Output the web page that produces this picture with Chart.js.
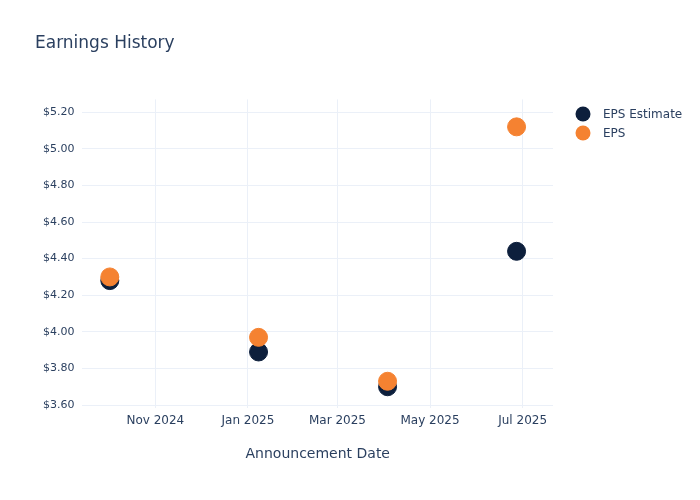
<!DOCTYPE html>
<html><head><meta charset="utf-8">
<script src="https://cdn.jsdelivr.net/npm/chart.js@4.4.0/dist/chart.umd.min.js"></script>
<style>html,body{margin:0;padding:0;background:#fff}#w{width:700px;height:500px}</style>
</head><body><div id="w"><canvas id="c"></canvas></div>
<script>
const dates = ["2024-10-02","2025-01-08","2025-04-03","2025-06-27"];
const epsEstimate = [4.28, 3.89, 3.70, 4.44];
const eps = [4.30, 3.97, 3.73, 5.12];
const tickDates = ["2024-11-01","2025-01-01","2025-03-01","2025-05-01","2025-07-01"];
const tickLabels = ["Nov 2024","Jan 2025","Mar 2025","May 2025","Jul 2025"];
const day = s => Date.parse(s + "T00:00:00Z") / 86400000;
const tickVals = tickDates.map(day);
const fc = "#2a3f5f";
const ff = "'DejaVu Sans', sans-serif";
Chart.defaults.font.family = ff;
Chart.defaults.color = fc;
const legendPlugin = {
  id:'customLegend',
  afterDraw(chart){
    const ctx = chart.ctx;
    ctx.save();
    chart.data.datasets.slice().sort((a,b)=>a.legendIdx-b.legendIdx).forEach((ds,i)=>{
      const y = 114 + i*19;
      ctx.beginPath(); ctx.arc(583,y,7.5,0,Math.PI*2);
      ctx.fillStyle = ds.backgroundColor; ctx.fill();
      ctx.fillStyle = fc; ctx.font = "12px " + ff; ctx.textBaseline='middle'; ctx.textAlign='left';
      ctx.fillText(ds.label, 603, y+1);
    });
    ctx.restore();
  }
};
new Chart(document.getElementById('c'), {
  type: 'scatter',
  data: { datasets: [
    { label: 'EPS Estimate', legendIdx:0, order:2, data: dates.map((d,i)=>({x:day(d),y:epsEstimate[i]})),
      backgroundColor:'#0d1f3c', borderColor:'#0d1f3c', pointRadius:9, pointHoverRadius:9 },
    { label: 'EPS', legendIdx:1, order:1, data: dates.map((d,i)=>({x:day(d),y:eps[i]})),
      backgroundColor:'#f58231', borderColor:'#f58231', pointRadius:9, pointHoverRadius:9 }
  ]},
  plugins:[legendPlugin],
  options: {
    responsive:true, maintainAspectRatio:false, animation:false,
    layout:{padding:{left:35,right:147,top:0,bottom:33}},
    plugins:{
      title:{display:true,text:'Earnings History',align:'start',font:{size:17,weight:'normal'},color:fc,padding:{top:33,bottom:46}},
      legend:{display:false},
      tooltip:{enabled:false}
    },
    scales:{
      x:{type:'linear',min:day("2024-09-14"),max:day("2025-07-21"),
        afterBuildTicks:s=>{s.ticks=tickVals.map(v=>({value:v}));},
        ticks:{callback:(v)=>{const i=tickVals.indexOf(v);return i>=0?tickLabels[i]:'';},font:{size:12},color:fc,maxRotation:0,autoSkip:false,padding:6},
        grid:{color:'#ebf0f8',drawTicks:false},border:{display:false},
        title:{display:true,text:'Announcement Date',font:{size:14},color:fc,padding:{top:12}}},
      y:{min:3.585,max:5.27,
        afterBuildTicks:s=>{const t=[];for(let v=3.6;v<=5.201;v+=0.2)t.push({value:Math.round(v*100)/100});s.ticks=t;},
        ticks:{callback:v=>'$'+v.toFixed(2),font:{size:11},color:fc,padding:8},
        grid:{color:'#ebf0f8',drawTicks:false},border:{display:false}}
    }
  }
});
</script></body></html>
